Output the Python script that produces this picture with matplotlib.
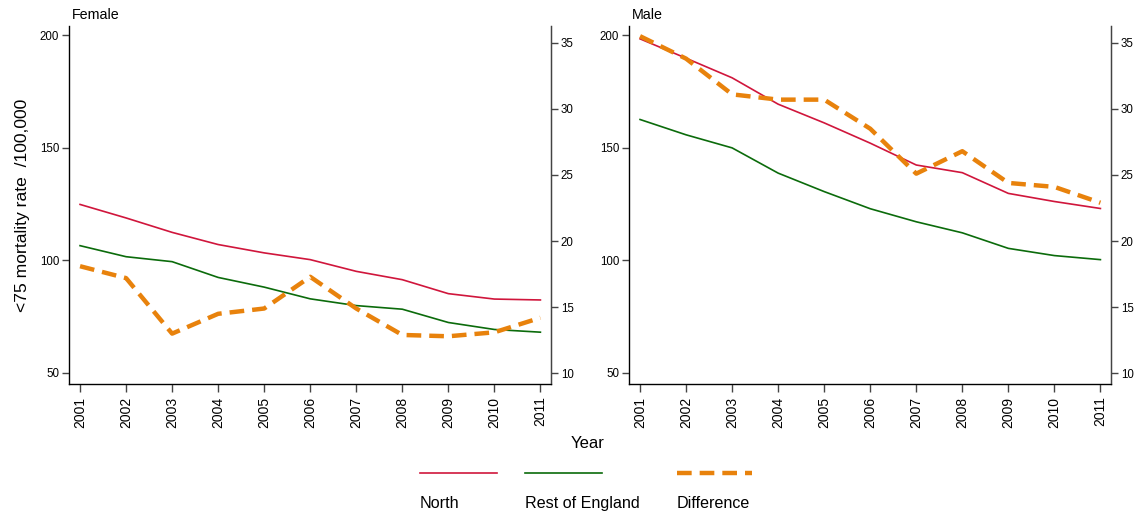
import numpy as np
import matplotlib.pyplot as plt
from matplotlib.lines import Line2D

plt.rcParams['font.family'] = ['Liberation Sans', 'DejaVu Sans']

years = list(range(2001, 2012))

female_north = [124.8, 118.8, 112.4, 107.0, 103.3, 100.3, 95.1, 91.4, 85.2, 82.8, 82.4]
female_rest = [106.5, 101.6, 99.4, 92.4, 88.1, 82.9, 79.9, 78.3, 72.4, 69.3, 68.1]
female_diff = [18.1, 17.2, 13.0, 14.5, 14.9, 17.3, 14.9, 12.9, 12.8, 13.1, 14.2]

male_north = [198.3, 189.7, 181.0, 169.3, 161.0, 152.0, 142.3, 138.9, 129.7, 126.1, 123.0]
male_rest = [162.5, 155.7, 149.9, 138.7, 130.5, 122.9, 117.1, 112.2, 105.3, 102.1, 100.3]
male_diff = [35.5, 33.8, 31.1, 30.7, 30.7, 28.5, 25.1, 26.8, 24.4, 24.1, 22.9]

left_ticks = [50, 100, 150, 200]
right_ticks = [10, 15, 20, 25, 30, 35]

c_north = '#d0163c'
c_rest = '#0b6b0b'
c_diff = '#e8820c'
c_axis = '#444444'

fig = plt.figure(figsize=(11.37, 5.13), dpi=100)
ax1 = fig.add_axes([69 / 1137, 1 - 384 / 513, 482 / 1137, 358 / 513])
ax2 = fig.add_axes([629 / 1137, 1 - 384 / 513, 482 / 1137, 358 / 513])


def panel(ax, north, rest, diff, title):
    ax.plot(years, north, color=c_north, linewidth=1.2)
    ax.plot(years, rest, color=c_rest, linewidth=1.2)
    ax.set_xlim(2000.76, 2011.23)
    ax.set_ylim(45.1, 204)
    ax.set_yticks(left_ticks)
    ax.set_xticks(years)
    ax.set_xticklabels([str(y) for y in years], rotation=90, fontsize=10)
    ax.tick_params(axis='y', labelsize=8.3, length=5, width=1, color=c_axis, pad=2)
    ax.tick_params(axis='x', length=6, width=1, color=c_axis, pad=3)
    ax.spines['top'].set_visible(False)
    for s in ['left', 'right', 'bottom']:
        ax.spines[s].set_color(c_axis)
        ax.spines[s].set_linewidth(1)
    ax.text(0.005, 1.012, title, transform=ax.transAxes, fontsize=10.3, ha='left', va='bottom')

    axr = ax.twinx()
    axr.plot(years, diff, color=c_diff, linewidth=3.2, linestyle=(0, (3.3, 1.8)))
    axr.set_ylim(9.19, 36.27)
    axr.set_yticks(right_ticks)
    axr.tick_params(axis='y', labelsize=8.3, length=5, width=1, color=c_axis, pad=2)
    axr.spines['top'].set_visible(False)
    axr.spines['right'].set_color(c_axis)
    return axr


panel(ax1, female_north, female_rest, female_diff, 'Female')
panel(ax2, male_north, male_rest, male_diff, 'Male')

ax1.set_ylabel('<75 mortality rate  /100,000', fontsize=12.6, labelpad=7)

fig.text(588 / 1137, 1 - 444 / 513, 'Year', fontsize=12, ha='center', va='center')

# legend keys with labels underneath
keys = [(420, 497, c_north, '-', 1.2), (525, 602, c_rest, '-', 1.2), (677, 752, c_diff, (0, (3.3, 1.8)), 3.2)]
names = ['North', 'Rest of England', 'Difference']
for (x0, x1, col, ls, lw), name in zip(keys, names):
    fig.add_artist(Line2D([x0 / 1137, x1 / 1137], [1 - 473 / 513] * 2, color=col,
                          linestyle=ls, linewidth=lw, transform=fig.transFigure))
    fig.text(x0 / 1137, 1 - 508 / 513, name, fontsize=11.6, ha='left', va='baseline')

plt.savefig('out.png', dpi=100)
